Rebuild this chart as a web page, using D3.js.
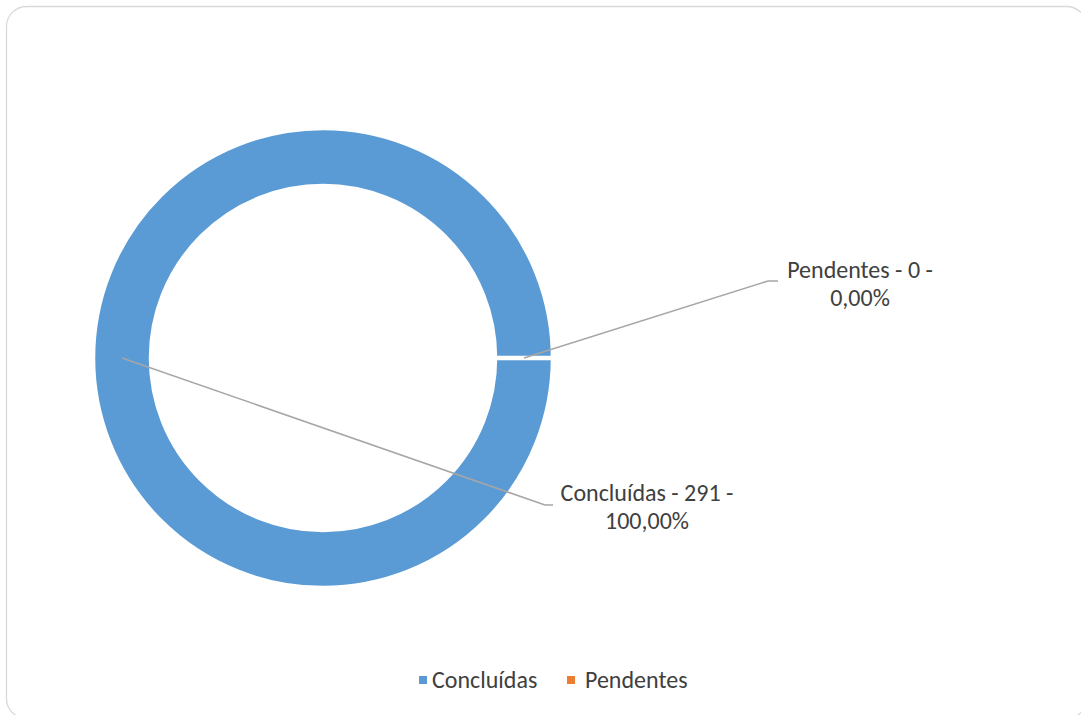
<!DOCTYPE html>
<html><head><meta charset="utf-8">
<script src="https://cdn.jsdelivr.net/npm/d3@7"></script>
<style>
html,body{margin:0;padding:0;background:#fff;}
svg{display:block;}
text{font-family:Carlito,"Open Sans","Noto Sans",sans-serif;fill:#404040;}
</style></head><body>
<svg id="c" width="1081" height="715"></svg>
<script>
// ---- data ----
const categories = ["Concluídas", "Pendentes"];
const values = [291, 0];
const percentLabels = ["100,00%", "0,00%"];
const colors = ["#5B9BD5", "#ED7D31"];

// ---- layout ----
const W = 1081, H = 715;
const cx = 323, cy = 358, rOuter = 230, rInner = 172;
// label anchor positions (manually placed labels, like the source chart)
const labelPos = [
  {x: 647, y: 493, elbow: [545, 505], end: [553, 505]},
  {x: 860, y: 270, elbow: [768, 281], end: [778, 281]}
];

const svg = d3.select("#c");
svg.append("rect").attr("x", 6.5).attr("y", 6.5).attr("width", 1080).attr("height", 712)
  .attr("rx", 20).attr("fill", "#fff").attr("stroke", "#D9D9D9").attr("stroke-width", 1.3);

const data = categories.map((c, i) => ({name: c, value: values[i], pct: percentLabels[i], color: colors[i]}));

const pie = d3.pie().value(d => d.value).sort(null)
  .startAngle(Math.PI / 2).endAngle(Math.PI / 2 + 2 * Math.PI);
const arcs = pie(data);
const arc = d3.arc().innerRadius(rInner).outerRadius(rOuter);
const midArc = d3.arc().innerRadius((rInner + rOuter) / 2).outerRadius((rInner + rOuter) / 2);

const g = svg.append("g").attr("transform", `translate(${cx},${cy})`);
g.selectAll("path.slice").data(arcs).join("path").attr("class", "slice")
  .attr("d", arc).attr("fill", d => d.data.color)
  .attr("stroke", "#fff").attr("stroke-width", 4.5).attr("stroke-linejoin", "miter");

// leader lines
arcs.forEach((a, i) => {
  const p = midArc.centroid(a);
  const L = labelPos[i];
  const pts = [[cx + p[0], cy + p[1]], L.elbow, L.end];
  svg.append("path").attr("d", d3.line()(pts)).attr("fill", "none")
    .attr("stroke", "#A6A6A6").attr("stroke-width", 1.5);
  const t = svg.append("text").attr("text-anchor", "middle").attr("font-size", 24);
  t.append("tspan").attr("x", L.x).attr("y", L.y).attr("dy", "0.35em")
    .text(`${a.data.name} - ${a.data.value} -`);
  t.append("tspan").attr("x", L.x).attr("y", L.y + 28).attr("dy", "0.35em")
    .text(a.data.pct);
});

// legend
const legendItems = [{x: 419, tx: 432}, {x: 567, tx: 585}];
data.forEach((d, i) => {
  svg.append("rect").attr("x", legendItems[i].x).attr("y", 676).attr("width", 8).attr("height", 8)
    .attr("fill", d.color);
  svg.append("text").attr("x", legendItems[i].tx).attr("y", 680).attr("dy", "0.35em")
    .attr("font-size", 24).text(d.name);
});
</script>
</body></html>
